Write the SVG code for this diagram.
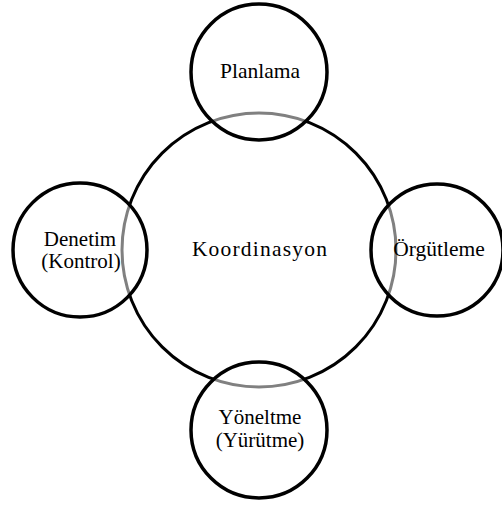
<svg xmlns="http://www.w3.org/2000/svg" width="502" height="506" viewBox="0 0 502 506">
<style>
.big{fill:#fff;stroke:#000;stroke-width:3}
.sm{fill:#fff;fill-opacity:0.5;stroke:#000;stroke-width:3.5}
text{font-family:"Liberation Serif","Times New Roman",serif;font-size:21px;fill:#000;text-anchor:middle}
</style>
<rect width="502" height="506" fill="#fff"/>
<g id="koordinasyon">
<circle class="big" cx="259" cy="250" r="137"/>
<text x="260" y="256" style="letter-spacing:1.2px;font-size:21.5px">Koordinasyon</text>
</g>
<g id="planlama">
<circle class="sm" cx="259" cy="72" r="68"/>
<text x="260" y="78" style="font-size:21.5px">Planlama</text>
</g>
<g id="orgutleme">
<circle class="sm" cx="437" cy="250" r="66"/>
<text x="439" y="256" style="font-size:21.5px">Örgütleme</text>
</g>
<g id="yoneltme">
<circle class="sm" cx="259" cy="430" r="68"/>
<text x="260" y="424">Yöneltme</text>
<text x="260" y="447">(Yürütme)</text>
</g>
<g id="denetim">
<circle class="sm" cx="80" cy="250" r="67"/>
<text x="80" y="245.5">Denetim</text>
<text x="81" y="268">(Kontrol)</text>
</g>
<g id="connectors"/>
</svg>
